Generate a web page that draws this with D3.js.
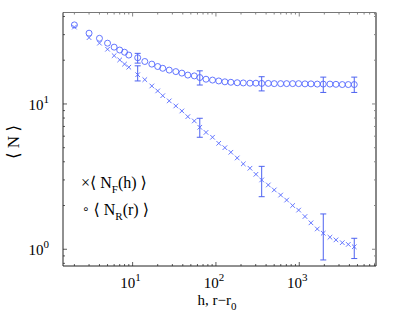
<!DOCTYPE html>
<html><head><meta charset="utf-8">
<script src="https://cdn.jsdelivr.net/npm/d3@7"></script>
<style>body{margin:0;background:#fff}</style>
</head><body>
<svg id="chart" width="415" height="313"></svg>
<script>
const xs = [2, 3, 4, 5, 6, 7, 8, 9, 11.5, 14,
  17, 20, 23, 27.5, 33, 39, 46, 55, 64, 76,
  91, 108, 128, 151, 180, 213, 256, 302, 354, 425,
  501, 598, 706, 833, 983, 1171, 1382, 1645, 1942, 2336,
  2758, 3283, 3875, 4574];
const nF = [33.8, 28.6, 26.2, 23.8, 21.5, 20.1, 18.8, 17.9, 15.9, 14.7,
  13.3, 12.3, 11.4, 10.5, 9.69, 8.95, 8.18, 7.64, 6.91, 6.37,
  5.90, 5.36, 5.00, 4.65, 4.25, 3.87, 3.61, 3.28, 3.00, 2.77,
  2.56, 2.36, 2.18, 2.00, 1.86, 1.68, 1.52, 1.38, 1.29, 1.21,
  1.16, 1.11, 1.08, 1.04];
const nR = [35.0, 30.7, 28.3, 26.2, 24.6, 23.5, 22.7, 21.7, 20.8, 19.6,
  18.8, 18.1, 17.6, 17.1, 16.7, 16.3, 15.8, 15.6, 15.2, 14.8,
  14.6, 14.4, 14.2, 14.1, 14.0, 13.95, 13.9, 13.9, 13.85, 13.85,
  13.8, 13.8, 13.8, 13.8, 13.8, 13.75, 13.75, 13.7, 13.7, 13.7,
  13.65, 13.6, 13.6, 13.6];
// error bars: point index, [low, high]
const errIdx = [8, 18, 28, 38, 43];
const errF = [[14.4, 18.3], [5.9, 7.97], [2.3, 3.72], [0.844, 1.75], [0.863, 1.19]];
const errR = [[19.1, 22.3], [13.5, 16.9], [12.3, 15.4], [12.0, 15.3], [12.0, 15.3]];
const xMajor = [10, 100, 1000];
const yMajor = [1, 10];

const L = 63, R = 376, T = 12.5, B = 266;
const FONT = "'Liberation Serif', 'Times New Roman', 'DejaVu Serif', serif";
const BLUE = '#5468ff';

const svg = d3.select('#chart');
const x = d3.scaleLog().domain([1.46, 8340]).range([L, R]);
const y = d3.scaleLog().domain([0.767, 42.6]).range([B, T]);

const xMinor = x.ticks().filter(v => !xMajor.includes(v));
const yMinor = y.ticks().filter(v => !yMajor.includes(v));

/* ticks, pointing inward on all four sides */
const g = svg.append('g');
function ticksX(vals, len) {
  vals.forEach(v => {
    const px = x(v);
    g.append('line').attr('x1', px).attr('x2', px).attr('y1', B).attr('y2', B - len)
      .attr('stroke', '#333').attr('stroke-width', 0.8);
    g.append('line').attr('x1', px).attr('x2', px).attr('y1', T).attr('y2', T + len)
      .attr('stroke', '#666').attr('stroke-width', 0.8);
  });
}
function ticksY(vals, len) {
  vals.forEach(v => {
    const py = y(v);
    g.append('line').attr('x1', L).attr('x2', L + len).attr('y1', py).attr('y2', py)
      .attr('stroke', '#333').attr('stroke-width', 0.8);
    g.append('line').attr('x1', R).attr('x2', R - len).attr('y1', py).attr('y2', py)
      .attr('stroke', '#666').attr('stroke-width', 0.8);
  });
}
ticksX(xMajor, 4); ticksX(xMinor, 2);
ticksY(yMajor, 4); ticksY(yMinor, 2);

/* frame */
g.append('line').attr('x1', L).attr('x2', R).attr('y1', T).attr('y2', T).attr('stroke', '#777');
g.append('line').attr('x1', R).attr('x2', R).attr('y1', T).attr('y2', B).attr('stroke', '#888').attr('stroke-width', 2);
g.append('line').attr('x1', L).attr('x2', L).attr('y1', T).attr('y2', B).attr('stroke', '#222');
g.append('line').attr('x1', L).attr('x2', R).attr('y1', B).attr('y2', B).attr('stroke', '#222');

/* tick labels */
xMajor.forEach(v => {
  const t = svg.append('text').attr('x', x(v) - 2).attr('y', 288)
    .attr('font-family', FONT).attr('font-size', 15).attr('text-anchor', 'middle');
  t.append('tspan').text('10');
  t.append('tspan').attr('dy', -7).attr('font-size', 11).text(Math.round(Math.log10(v)));
});
yMajor.forEach(v => {
  const t = svg.append('text').attr('x', 49).attr('y', y(v) + 6)
    .attr('font-family', FONT).attr('font-size', 15).attr('text-anchor', 'end');
  t.append('tspan').text('10');
  t.append('tspan').attr('dy', -7).attr('font-size', 11).text(Math.round(Math.log10(v)));
});

/* axis titles */
const xl = svg.append('text').attr('x', 217).attr('y', 305)
  .attr('font-family', FONT).attr('font-size', 15).attr('text-anchor', 'middle');
xl.append('tspan').text('h, r\u2212r');
xl.append('tspan').attr('dy', 5).attr('font-size', 11).text('0');

svg.append('text').attr('transform', 'translate(19,142) rotate(-90)')
  .attr('font-family', FONT).attr('font-size', 17).attr('text-anchor', 'middle')
  .text('\u27E8 N \u27E9');

/* error bars */
function errBars(ranges, color) {
  errIdx.forEach((idx, i) => {
    const px = x(xs[idx]);
    const [lo, hi] = ranges[i];
    g.append('line').attr('x1', px).attr('x2', px).attr('y1', y(lo)).attr('y2', y(hi))
      .attr('stroke', color).attr('stroke-width', 1);
    [lo, hi].forEach(v => {
      g.append('line').attr('x1', px - 3).attr('x2', px + 3).attr('y1', y(v)).attr('y2', y(v))
        .attr('stroke', color).attr('stroke-width', 1);
    });
  });
}
errBars(errR, '#4d62f0');
errBars(errF, '#4d62f0');

/* markers */
const pts = svg.append('g');
xs.forEach((v, i) => {
  pts.append('circle').attr('cx', x(v)).attr('cy', y(nR[i])).attr('r', 3)
    .attr('fill', 'none').attr('stroke', BLUE).attr('stroke-width', 0.9);
  const cx = x(v), cy = y(nF[i]), s = 2.3;
  pts.append('path')
    .attr('d', `M${cx - s},${cy - s}L${cx + s},${cy + s}M${cx - s},${cy + s}L${cx + s},${cy - s}`)
    .attr('stroke', BLUE).attr('stroke-width', 0.9);
});

/* legend */
const lg1 = svg.append('text').attr('x', 81).attr('y', 188)
  .attr('font-family', FONT).attr('font-size', 16);
lg1.append('tspan').text('\u00D7\u27E8 N');
lg1.append('tspan').attr('dy', 5).attr('font-size', 11).text('F');
lg1.append('tspan').attr('dy', -5).text('(h) \u27E9');

const lg2 = svg.append('text').attr('x', 82).attr('y', 215)
  .attr('font-family', FONT).attr('font-size', 16);
lg2.append('tspan').attr('font-family', 'DejaVu Sans').attr('font-size', 12).attr('dy', -2).text('\u2218');
lg2.append('tspan').attr('dy', 2).text(' \u27E8 N');
lg2.append('tspan').attr('dy', 5).attr('font-size', 11).text('R');
lg2.append('tspan').attr('dy', -5).text('(r) \u27E9');
</script>
</body></html>
